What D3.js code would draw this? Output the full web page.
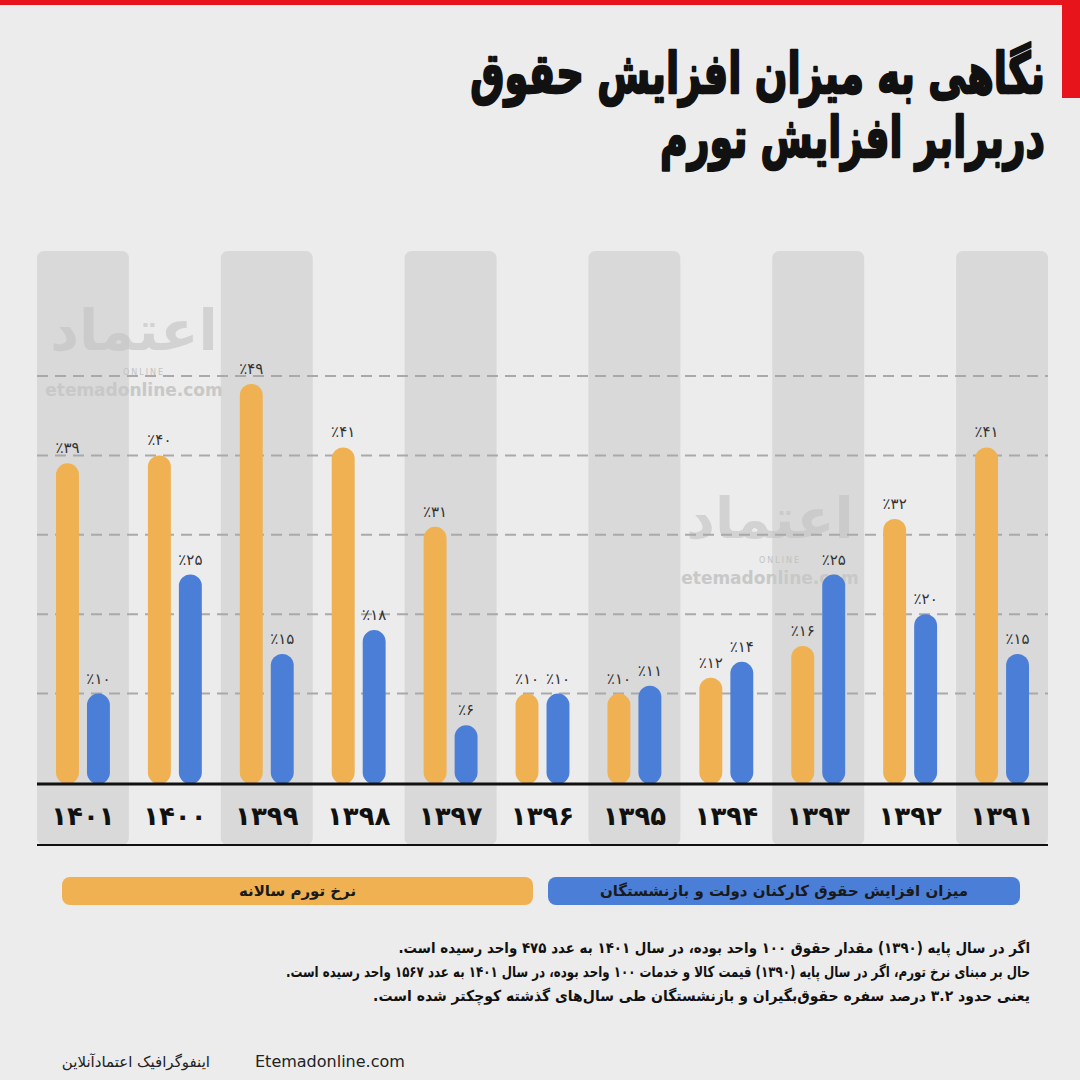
<!DOCTYPE html>
<html>
<head>
<meta charset="utf-8">
<script src="https://cdn.jsdelivr.net/npm/d3@7"></script>
<style>
  html, body { margin: 0; padding: 0; background: #ececec; }
  svg { display: block; }
  text { font-family: "DejaVu Sans", sans-serif; }
</style>
</head>
<body>
<div id="chart"></div>
<script>
'use strict';

// data (left to right as in the picture)
var years = [1401, 1400, 1399, 1398, 1397, 1396, 1395, 1394, 1393, 1392, 1391];
var inflation = [39, 40, 49, 41, 31, 10, 10, 12, 16, 32, 41];   // نرخ تورم سالانه
var salary = [10, 25, 15, 18, 6, 10, 11, 14, 25, 20, 15];       // افزایش حقوق
var gridValues = [10, 20, 30, 40, 50];
var seriesKeys = ['inflation', 'salary'];
var seriesNames = ['نرخ تورم سالانه', 'میزان افزایش حقوق کارکنان دولت و بازنشستگان'];

var titleLines = ['نگاهی به میزان افزایش حقوق', 'دربرابر افزایش تورم'];
var noteLines = [
  'اگر در سال پایه (۱۳۹۰) مقدار حقوق ۱۰۰ واحد بوده، در سال ۱۴۰۱ به عدد ۴۷۵ واحد رسیده است.',
  'حال بر مبنای نرخ تورم، اگر در سال پایه (۱۳۹۰) قیمت کالا و خدمات ۱۰۰ واحد بوده، در سال ۱۴۰۱ به عدد ۱۵۶۷ واحد رسیده است.',
  'یعنی حدود ۳.۲ درصد سفره حقوق‌بگیران و بازنشستگان طی سال‌های گذشته کوچکتر شده است.'
];

var colors = { inflation: '#efb152', salary: '#4b7fd7' };

// latin -> persian digits
var toFa = function(n) {
  return String(n).replace(/[0-9]/g, function(d) { return '۰۱۲۳۴۵۶۷۸۹'[+d]; });
};

var W = 1080, H = 1080;
var baseY = 784, bottomY = 845, panelTop = 251;

var svg = d3.select('#chart').append('svg')
  .attr('width', W)
  .attr('height', H);

svg.append('rect').attr('width', W).attr('height', H).attr('fill', '#ececec');

// red corner frame
svg.append('rect').attr('x', 0).attr('y', 0).attr('width', W).attr('height', 5).attr('fill', '#e8141b');
svg.append('rect').attr('x', 1062).attr('y', 0).attr('width', 18).attr('height', 98).attr('fill', '#e8141b');

// Scales
var xScale = d3.scaleBand()
  .domain(years)
  .range([37, 1048])
  .padding(0);

var xInner = d3.scaleBand()
  .domain(seriesKeys)
  .range([19, xScale.bandwidth() - 19])
  .paddingInner(0.26);

var yScale = d3.scaleLinear()
  .domain([0, 50])
  .range([773, 376]);

// alternating grey panels
svg.selectAll('rect.panel')
  .data(years.filter(function(d, i) { return i % 2 === 0; }))
  .enter()
  .append('rect')
  .attr('class', 'panel')
  .attr('x', function(d) { return xScale(d); })
  .attr('y', panelTop)
  .attr('width', xScale.bandwidth())
  .attr('height', bottomY - panelTop)
  .attr('rx', 7)
  .attr('fill', '#d9d9d9');

// watermarks (logo, ONLINE, site)
var marks = [[134, 396], [770, 584]];
marks.forEach(function(m) {
  svg.append('text')
    .attr('x', m[0]).attr('y', m[1] - 46)
    .attr('text-anchor', 'middle')
    .attr('font-size', 56).attr('font-weight', 'bold')
    .attr('fill', '#c2c2c2').attr('opacity', 0.6)
    .text('اعتماد');
  svg.append('text')
    .attr('x', m[0] + 10).attr('y', m[1] - 21)
    .attr('text-anchor', 'middle')
    .attr('font-size', 8).attr('letter-spacing', 2)
    .attr('fill', '#c2c2c2')
    .text('ONLINE');
  svg.append('text')
    .attr('x', m[0]).attr('y', m[1])
    .attr('text-anchor', 'middle')
    .attr('font-size', 17).attr('font-weight', 'bold')
    .attr('fill', '#c8c8c8')
    .text('etemadonline.com');
});

// dashed grid
svg.selectAll('line.grid')
  .data(gridValues)
  .enter()
  .append('line')
  .attr('class', 'grid')
  .attr('x1', 37).attr('x2', 1048)
  .attr('y1', function(d) { return yScale(d); })
  .attr('y2', function(d) { return yScale(d); })
  .attr('stroke', '#a9a9a9')
  .attr('stroke-width', 2)
  .attr('stroke-dasharray', '11,7');

// bars
var rows = years.map(function(y, i) {
  return { year: y, inflation: inflation[i], salary: salary[i] };
});

var groups = svg.selectAll('g.year')
  .data(rows)
  .enter()
  .append('g')
  .attr('class', 'year')
  .attr('transform', function(d) { return 'translate(' + xScale(d.year) + ',0)'; });

var cells = groups.selectAll('g.cell')
  .data(function(d) { return seriesKeys.map(function(k) { return { key: k, value: d[k] }; }); })
  .enter()
  .append('g')
  .attr('class', 'cell');

cells.append('rect')
  .attr('x', function(d) { return xInner(d.key); })
  .attr('y', function(d) { return yScale(d.value); })
  .attr('width', xInner.bandwidth())
  .attr('height', function(d) { return baseY - yScale(d.value); })
  .attr('rx', xInner.bandwidth() / 2)
  .attr('fill', function(d) { return colors[d.key]; });

cells.append('text')
  .attr('x', function(d) { return xInner(d.key) + xInner.bandwidth() / 2; })
  .attr('y', function(d) { return yScale(d.value) - 10; })
  .attr('text-anchor', 'middle')
  .attr('font-size', 15)
  .attr('fill', '#333')
  .text(function(d) { return '٪' + toFa(d.value); });

// Axis
var xAxis = d3.axisBottom(xScale)
  .tickSize(0)
  .tickPadding(0)
  .tickFormat(toFa);

var axisG = svg.append('g')
  .attr('transform', 'translate(0,' + baseY + ')')
  .call(xAxis);
axisG.select('.domain').remove();
axisG.selectAll('text')
  .attr('y', 41)
  .attr('dy', null)
  .attr('font-size', 26)
  .attr('font-weight', 'bold')
  .attr('font-family', '"DejaVu Sans", sans-serif')
  .attr('fill', '#111');

svg.append('line')
  .attr('x1', 37).attr('x2', 1048).attr('y1', baseY).attr('y2', baseY)
  .attr('stroke', '#111').attr('stroke-width', 3);
svg.append('line')
  .attr('x1', 37).attr('x2', 1048).attr('y1', bottomY).attr('y2', bottomY)
  .attr('stroke', '#111').attr('stroke-width', 2);

// legend
var legendBoxes = [[62, 533], [548, 1020]];
seriesKeys.forEach(function(k, i) {
  var b = legendBoxes[i];
  svg.append('rect')
    .attr('x', b[0]).attr('y', 877)
    .attr('width', b[1] - b[0]).attr('height', 28)
    .attr('rx', 8)
    .attr('fill', colors[k]);
  svg.append('text')
    .attr('x', (b[0] + b[1]) / 2).attr('y', 896)
    .attr('text-anchor', 'middle')
    .attr('font-size', 15).attr('font-weight', 'bold')
    .attr('fill', '#1a1a1a')
    .text(seriesNames[i]);
});

// right-aligned rtl line squeezed horizontally to a given width
var rtlLine = function(t, x, y, width, size, heavy) {
  var g = svg.append('g');
  var txt = g.append('text')
    .attr('x', 0).attr('y', 0)
    .attr('direction', 'rtl')
    .attr('text-anchor', 'start')
    .attr('font-size', size).attr('font-weight', 'bold')
    .attr('fill', '#111')
    .text(t);
  if (heavy) {
    txt.attr('stroke', '#111').attr('stroke-width', heavy).attr('stroke-linejoin', 'round');
  }
  var natural = txt.node().getComputedTextLength();
  var sx = Math.min(1, width / natural);
  g.attr('transform', 'translate(' + x + ',' + y + ') scale(' + sx + ',1)');
};

// title, heavy and narrow
var titleWidths = [575, 385];
titleLines.forEach(function(t, i) {
  rtlLine(t, 1045, 93 + i * 64, titleWidths[i], 56, 2.4);
});

// notes
var noteWidths = [632, 745, 657];
noteLines.forEach(function(t, i) {
  rtlLine(t, 1030, 953 + i * 24, noteWidths[i], 15, 0);
});

// footer
svg.append('text')
  .attr('x', 255).attr('y', 1067)
  .attr('font-size', 16).attr('fill', '#222')
  .text('Etemadonline.com');
svg.append('text')
  .attr('x', 210).attr('y', 1067)
  .attr('direction', 'rtl')
  .attr('text-anchor', 'start')
  .attr('font-size', 15).attr('fill', '#222')
  .text('اینفوگرافیک اعتمادآنلاین');
</script>
</body>
</html>
